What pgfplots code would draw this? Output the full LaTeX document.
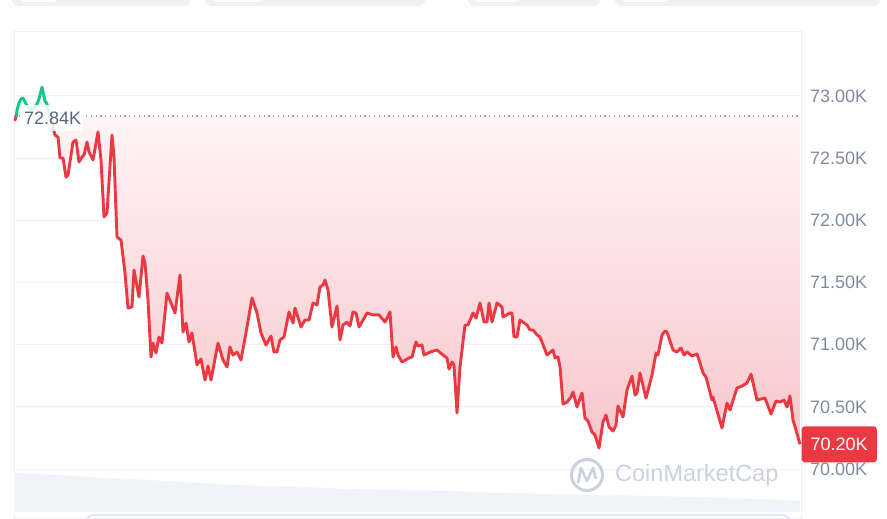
\documentclass[border=0pt]{standalone}
\usepackage{fontspec}
\setmainfont{Liberation Sans}
\usepackage{pgfplots}
\pgfplotsset{compat=1.18}
\definecolor{cmcred}{HTML}{EA3943}
\definecolor{cmcgreen}{HTML}{16C784}
\definecolor{gridc}{HTML}{EFF1F5}
\definecolor{tickc}{HTML}{808A9D}
\definecolor{lblc}{HTML}{58667E}
\definecolor{volc}{HTML}{F1F3FB}
\definecolor{wmc}{HTML}{CCD1DE}
\definecolor{tabc}{HTML}{EFF2F5}
\definecolor{filltop}{HTML}{FFF4F5}
\definecolor{fillbot}{HTML}{F7C6CB}
\definecolor{dotc}{HTML}{9AA3B5}
\definecolor{slidc}{HTML}{DDE4F8}
\begin{document}
\begin{tikzpicture}
\useasboundingbox (0pt,0pt) rectangle (887pt,519pt);
% top tab bar (UI)
\fill[tabc, rounded corners=6pt] (12pt,513pt) rectangle (190pt,545pt);
\fill[tabc, rounded corners=6pt] (205pt,513pt) rectangle (425pt,545pt);
\fill[tabc, rounded corners=6pt] (468pt,513pt) rectangle (600pt,545pt);
\fill[tabc, rounded corners=6pt] (615pt,513pt) rectangle (880pt,545pt);
\fill[white, rounded corners=5pt] (20pt,517pt) rectangle (58pt,545pt);
\fill[white, rounded corners=5pt] (212pt,517pt) rectangle (262pt,545pt);
\fill[white, rounded corners=5pt] (474pt,517pt) rectangle (520pt,545pt);
\fill[white, rounded corners=5pt] (621pt,517pt) rectangle (668pt,545pt);
\begin{axis}[
  at={(14pt,0pt)}, anchor=south west,
  scale only axis, width=787pt, height=487pt,
  xmin=14, xmax=801, ymin=69.5997, ymax=73.5145,
  axis line style={draw=gridc, line width=1pt},
  xtick=\empty,
  ytick={70,70.5,71,71.5,72,72.5,73},
  yticklabels={70.00K,70.50K,71.00K,71.50K,72.00K,72.50K,73.00K},
  yticklabel pos=right,
  major tick length=0pt,
  yticklabel style={anchor=west, inner sep=0pt, xshift=9pt, text=tickc, font=\fontsize{18}{21}\selectfont},
  ymajorgrids, grid style={draw=gridc, line width=1pt},
  clip=false,
]
% volume (faint)
\addplot[draw=none, fill=volc] coordinates {
(14,69.656) (14,69.970) (40,69.961) (80,69.945) (100,69.929) (150,69.913) (200,69.889)
(260,69.865) (300,69.857) (350,69.841) (400,69.833) (450,69.825) (500,69.809)
(550,69.801) (600,69.793) (650,69.785) (700,69.777) (750,69.761) (790,69.752)
(800,69.744) (800,69.656)} -- cycle;
% green fill
\addplot[draw=none, fill=cmcgreen, fill opacity=0.07] coordinates {
(16.3,72.84) (17,72.887) (19,72.944) (21,72.976) (23,72.984) (26,72.936) (30,72.895)
(34,72.904) (37,72.936) (39,72.976) (42,73.072) (45,72.960) (47,72.936) (49.5,72.84)} -- cycle;
% red gradient fill
\addplot[draw=none, top color=filltop, bottom color=fillbot] coordinates {
(49.5,72.84) (52,72.783) (55,72.686) (58,72.670) (60,72.502) (63,72.502) (66,72.349)
(68,72.365) (73,72.630) (76,72.646) (79,72.469) (82,72.510) (84,72.526) (87,72.630)
(89,72.550) (93,72.486) (98,72.711) (101,72.486) (104,72.027) (107,72.059) (112,72.686)
(114,72.510) (117,71.867) (121,71.842) (125,71.577) (128,71.296) (132,71.304) (134,71.601)
(139,71.384) (143,71.714) (145,71.658) (148,71.360) (151,70.902) (153,71.014) (156,70.934)
(159,71.063) (162,71.014) (167,71.416) (175,71.256) (180,71.561) (183,71.103) (186,71.175)
(189,71.023) (192,71.095) (197,70.838) (201,70.886) (205,70.717) (208,70.830) (211,70.717)
(218,71.014) (223,70.878) (227,70.822) (230,70.982) (233,70.918) (237,70.942) (241,70.878)
(247,71.143) (252,71.376) (257,71.256) (261,71.095) (266,70.998) (271,71.071) (274,70.942)
(277,70.942) (280,71.039) (284,71.063) (289,71.264) (293,71.175) (295,71.296) (301,71.143)
(305,71.199) (309,71.199) (313,71.336) (317,71.320) (320,71.465) (323,71.481) (325,71.521)
(328,71.441) (332,71.143) (337,71.312) (340,71.039) (343,71.159) (347,71.183) (350,71.151)
(353,71.264) (356,71.256) (359,71.143) (363,71.199) (367,71.256) (373,71.240) (379,71.240)
(385,71.183) (390,71.264) (393,70.902) (396,70.982) (398,70.918) (402,70.862) (409,70.894)
(412,70.902) (416,71.023) (418,70.990) (422,70.998) (424,70.918) (430,70.942) (437,70.958)
(443,70.918) (447,70.894) (449,70.805) (452,70.862) (454,70.838) (457,70.452) (460,70.822)
(465,71.159) (468,71.159) (473,71.256) (476,71.215) (480,71.336) (484,71.183) (487,71.183)
(489,71.336) (492,71.183) (497,71.336) (502,71.304) (503,71.223) (510,71.256) (512,71.256)
(514,71.063) (517,71.063) (520,71.199) (527,71.159) (530,71.119) (533,71.119) (537,71.079)
(540,71.063) (547,70.918) (553,70.958) (555,70.894) (558,70.902) (560,70.822) (563,70.524)
(567,70.540) (571,70.580) (573,70.621) (577,70.500) (582,70.613) (585,70.412) (588,70.387)
(592,70.299) (595,70.275) (599,70.170) (603,70.379) (606,70.436) (609,70.339) (613,70.307)
(616,70.355) (618,70.508) (623,70.420) (627,70.637) (632,70.749) (635,70.596) (637,70.613)
(640,70.773) (646,70.572) (652,70.757) (656,70.934) (658,70.918) (662,71.079) (665,71.111)
(667,71.103) (673,70.958) (677,70.942) (681,70.974) (684,70.918) (687,70.942) (692,70.910)
(697,70.926) (700,70.854) (703,70.773) (706,70.741) (712,70.556) (713,70.580) (722,70.331)
(727,70.532) (730,70.476) (737,70.653) (742,70.669) (747,70.693) (751,70.765) (757,70.556)
(765,70.572) (771,70.444) (776,70.548) (780,70.540) (784,70.556) (787,70.500) (790,70.588)
(793,70.395) (796,70.315) (800,70.20) (800,72.84)} -- cycle;
% baseline
\addplot[dotc, line width=1.2pt, dash pattern=on 1.2pt off 3.6pt] coordinates {(14,72.84) (801,72.84)};
% price line
\addplot[cmcred, line width=2.9pt, line join=round, line cap=round] coordinates {(15,72.807) (16.3,72.84)};
\addplot[cmcgreen, line width=2.9pt, line join=round, line cap=round] coordinates {
(16.3,72.84) (17,72.887) (19,72.944) (21,72.976) (23,72.984) (26,72.936) (30,72.895)
(34,72.904) (37,72.936) (39,72.976) (42,73.072) (45,72.960) (47,72.936) (49.5,72.84)};
\addplot[cmcred, line width=2.9pt, line join=round] coordinates {
(49.5,72.84) (52,72.783) (55,72.686) (58,72.670) (60,72.502) (63,72.502) (66,72.349)
(68,72.365) (73,72.630) (76,72.646) (79,72.469) (82,72.510) (84,72.526) (87,72.630)
(89,72.550) (93,72.486) (98,72.711) (101,72.486) (104,72.027) (107,72.059) (112,72.686)
(114,72.510) (117,71.867) (121,71.842) (125,71.577) (128,71.296) (132,71.304) (134,71.601)
(139,71.384) (143,71.714) (145,71.658) (148,71.360) (151,70.902) (153,71.014) (156,70.934)
(159,71.063) (162,71.014) (167,71.416) (175,71.256) (180,71.561) (183,71.103) (186,71.175)
(189,71.023) (192,71.095) (197,70.838) (201,70.886) (205,70.717) (208,70.830) (211,70.717)
(218,71.014) (223,70.878) (227,70.822) (230,70.982) (233,70.918) (237,70.942) (241,70.878)
(247,71.143) (252,71.376) (257,71.256) (261,71.095) (266,70.998) (271,71.071) (274,70.942)
(277,70.942) (280,71.039) (284,71.063) (289,71.264) (293,71.175) (295,71.296) (301,71.143)
(305,71.199) (309,71.199) (313,71.336) (317,71.320) (320,71.465) (323,71.481) (325,71.521)
(328,71.441) (332,71.143) (337,71.312) (340,71.039) (343,71.159) (347,71.183) (350,71.151)
(353,71.264) (356,71.256) (359,71.143) (363,71.199) (367,71.256) (373,71.240) (379,71.240)
(385,71.183) (390,71.264) (393,70.902) (396,70.982) (398,70.918) (402,70.862) (409,70.894)
(412,70.902) (416,71.023) (418,70.990) (422,70.998) (424,70.918) (430,70.942) (437,70.958)
(443,70.918) (447,70.894) (449,70.805) (452,70.862) (454,70.838) (457,70.452) (460,70.822)
(465,71.159) (468,71.159) (473,71.256) (476,71.215) (480,71.336) (484,71.183) (487,71.183)
(489,71.336) (492,71.183) (497,71.336) (502,71.304) (503,71.223) (510,71.256) (512,71.256)
(514,71.063) (517,71.063) (520,71.199) (527,71.159) (530,71.119) (533,71.119) (537,71.079)
(540,71.063) (547,70.918) (553,70.958) (555,70.894) (558,70.902) (560,70.822) (563,70.524)
(567,70.540) (571,70.580) (573,70.621) (577,70.500) (582,70.613) (585,70.412) (588,70.387)
(592,70.299) (595,70.275) (599,70.170) (603,70.379) (606,70.436) (609,70.339) (613,70.307)
(616,70.355) (618,70.508) (623,70.420) (627,70.637) (632,70.749) (635,70.596) (637,70.613)
(640,70.773) (646,70.572) (652,70.757) (656,70.934) (658,70.918) (662,71.079) (665,71.111)
(667,71.103) (673,70.958) (677,70.942) (681,70.974) (684,70.918) (687,70.942) (692,70.910)
(697,70.926) (700,70.854) (703,70.773) (706,70.741) (712,70.556) (713,70.580) (722,70.331)
(727,70.532) (730,70.476) (737,70.653) (742,70.669) (747,70.693) (751,70.765) (757,70.556)
(765,70.572) (771,70.444) (776,70.548) (780,70.540) (784,70.556) (787,70.500) (790,70.588)
(793,70.395) (796,70.315) (800,70.20)};
% labels
\node[anchor=west, fill=white, fill opacity=0.85, text opacity=1, text=lblc, inner xsep=2pt, inner ysep=7pt, font=\fontsize{18}{21}\selectfont] at (axis cs:22,72.823) {72.84K};
\node[anchor=west, fill=cmcred, text=white, rounded corners=3pt, inner xsep=9pt, minimum height=36pt, font=\fontsize{18}{21}\selectfont] at (axis cs:801.5,70.20) {70.20K};
\end{axis}
% watermark
\draw[wmc, line width=3pt] (587pt,44pt) circle (15.5pt);
\draw[wmc, line width=2.6pt, line join=round] (578pt,36pt) -- (581pt,51pt) -- (587pt,38pt) -- (593pt,51pt) -- (596pt,40pt);
\node[anchor=west, text=wmc, inner sep=0pt, font=\fontsize{23.5}{26}\selectfont] at (615pt,44pt) {CoinMarketCap};
% slider outline (UI)
\draw[slidc, line width=1.5pt, rounded corners=8pt] (86pt,4pt) rectangle (790pt,-30pt);
\end{tikzpicture}
\end{document}
